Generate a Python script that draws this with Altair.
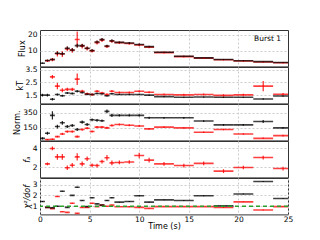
import altair as alt
import pandas as pd

# time bins (centre, half width)
T = [0.25, 0.75, 1.25, 1.75, 2.25, 2.75, 3.25, 3.75, 4.25, 4.75, 5.25, 5.75, 6.25, 6.75, 7.25,
     8, 9, 10, 11, 12.5, 14.5, 16.5, 18.5, 20.5, 22.5, 24.5]
HW = [0.25] * 15 + [0.5] * 4 + [1.0] * 7

N = None
flux_k = [2.0, 3.7, 4.4, 8.3, 8.0, 11.5, 10.4, 13.1, 13.1, 11.5, 10.0, 15.4, 17.0, 12.9, 16.2,
          15.2, 14.8, 13.8, 12.5, 8.9, 6.4, 5.4, 4.4, 3.6, 3.0, 2.5]
flux_ke = [0.4, 0.5, 0.6, 0.9, 0.9, 1.0, 1.0, 1.2, 1.0, 0.9, 0.8, 1.0, 1.0, 0.8, 0.9,
           0.6, 0.6, 0.6, 0.5, 0.4, 0.4, 0.3, 0.3, 0.3, 0.3, 0.3]
flux_r = [N, 3.6, 4.3, 8.0, 7.8, 11.0, 10.2, 17.0, 12.8, 11.3, 9.8, 15.0, 16.6, 12.6, 15.9,
          15.0, 14.5, 13.5, 12.2, 8.7, 6.2, 5.2, 4.2, 3.4, 2.8, 2.3]
flux_re = [N, 0.8, 1.0, 1.8, 1.8, 1.5, 1.5, 5.0, 1.5, 1.2, 1.0, 1.2, 1.2, 1.0, 1.0,
           0.8, 0.8, 0.8, 0.7, 0.6, 0.5, 0.5, 0.4, 0.4, 0.4, 0.4]

kt_k = [1.5, 1.5, 1.17, 1.55, 1.45, 1.67, 1.63, 1.8, 1.7, 1.57, 1.55, 1.63, 1.6, 1.45, 1.6,
        1.55, 1.55, 1.55, 1.5, 1.38, 1.33, 1.35, 1.33, 1.33, 1.2, 1.43]
kt_ke = [0.1, 0.1, 0.1, 0.08, 0.08, 0.08, 0.08, 0.1, 0.08, 0.08, 0.06, 0.06, 0.06, 0.06, 0.06,
         0.05, 0.05, 0.05, 0.05, 0.05, 0.05, 0.05, 0.05, 0.05, 0.06, 0.06]
kt_r = [N, N, 2.93, 2.2, 1.88, 1.95, 1.95, 2.75, 1.8, 1.6, 1.55, 1.8, 1.67, 1.55, 1.8,
        1.7, 1.7, 1.8, 1.72, 1.55, 1.52, 1.55, 1.48, 1.52, 2.2, 1.57]
kt_re = [N, N, 0.15, 0.25, 0.15, 0.12, 0.12, 0.45, 0.12, 0.1, 0.1, 0.1, 0.1, 0.1, 0.1,
         0.08, 0.08, 0.08, 0.08, 0.08, 0.08, 0.08, 0.08, 0.08, 0.4, 0.1]

nm_k = [12, 80, 315, 168, 217, 168, 182, 128, 226, 195, 257, 250, 244, 368, 315,
        315, 315, 315, 283, 283, 283, 240, 190, 190, 235, 150]
nm_ke = [15, 20, 55, 25, 25, 20, 20, 20, 20, 20, 18, 18, 18, 25, 20,
         15, 15, 15, 15, 12, 12, 12, 12, 12, 20, 12]
nm_r = [N, -5, 0, 35, 70, 102, 102, 35, 128, 146, 102, 160, 160, 150, 182,
        195, 185, 175, 137, 160, 150, 93, 128, 70, 12, 48]
nm_re = [N, 10, 10, 12, 15, 15, 15, 15, 15, 15, 12, 15, 15, 15, 15,
         12, 12, 12, 12, 10, 10, 10, 10, 10, 10, 10]

fa_r = [N, 2.35, 4.0, 3.1, 3.1, 1.93, 2.2, 3.1, 2.35, 2.9, 2.2, 2.17, 2.6, 3.0, 2.46,
        2.5, 2.55, 3.25, 2.75, 2.35, 2.17, 2.4, 1.57, 1.96, 3.03, 1.85]
fa_re = [N, 0.15, 0.2, 0.3, 0.3, 0.25, 0.25, 0.4, 0.25, 0.25, 0.2, 0.2, 0.2, 0.3, 0.25,
         0.2, 0.2, 0.3, 0.25, 0.2, 0.2, 0.2, 0.2, 0.2, 0.2, 0.2]

chi_k = [1.44, 0.9, 0.85, 1.0, 2.38, 0.9, 2.0, 2.75, 1.53, 0.97, 1.78, 1.22, 1.1, 1.53, 1.78,
         1.38, 1.44, 1.97, 1.38, 1.59, 1.53, 1.97, 1.03, 2.13, 3.28, 1.72]
chi_r = [N, 0.88, 0.78, 1.9, 0.5, 0.44, 1.28, 0.34, 0.88, 0.9, 1.28, 0.97, 1.1, 1.0, 1.1,
         0.96, 0.95, 0.9, 0.8, 0.97, 0.97, 0.97, 0.88, 1.4, 0.65, 0.97]

rows = []


def add(panel, series, vals, errs):
    for i, v in enumerate(vals):
        if v is None:
            continue
        e = errs[i] if errs is not None and errs[i] is not None else 0.04
        rows.append(dict(panel=panel, series=series, t=T[i], tlo=T[i] - HW[i], thi=T[i] + HW[i],
                         v=v, lo=v - e, hi=v + e))


for p, rk, rke, bk, bke in [
    ("flux", flux_r, flux_re, flux_k, flux_ke),
    ("kt", kt_r, kt_re, kt_k, kt_ke),
    ("norm", nm_r, nm_re, nm_k, nm_ke),
    ("fa", fa_r, fa_re, None, None),
    ("chi", chi_r, None, chi_k, None),
]:
    add(p, "red", rk, rke)
    if bk is not None:
        add(p, "black", bk, bke)

df = pd.DataFrame(rows)

W, H = 248, 36.4
FONT = "DejaVu Sans"
color = alt.Color("series:N", scale=alt.Scale(domain=["black", "red"], range=["#000000", "#ff0000"]),
                  legend=None)


def panel(name, domain, ticks, title, fmt, bottom=False, italic=False):
    d = df[df.panel == name]
    base = alt.Chart(d)
    if bottom:
        xax = alt.Axis(values=[0, 5, 10, 15, 20, 25], grid=True, gridDash=[2, 2], gridColor="#cccccc",
                       labels=True, ticks=False, domain=False, format="d",
                       title="Time (s)", labelFlush=False, labelPadding=1, titlePadding=0)
    else:
        xax = alt.Axis(values=[5, 10, 15, 20], grid=True, gridDash=[2, 2], gridColor="#cccccc",
                       labels=False, ticks=False, domain=False, title=None,
                       minExtent=0, maxExtent=0, offset=0)
    yax = alt.Axis(values=ticks, grid=True, gridDash=[2, 2], gridColor="#cccccc", title=title,
                   format=fmt, titleFontStyle="italic" if italic else "normal", labelOverlap=False,
                   labelBound=False, ticks=False, domain=False, labelPadding=3, titlePadding=1)
    xs = alt.Scale(domain=[0, 25], nice=False)
    ys = alt.Scale(domain=domain, nice=False, zero=False)
    hbar = base.mark_rule(strokeWidth=1.6, opacity=0.75, clip=True).encode(
        x=alt.X("tlo:Q", scale=xs, axis=xax), x2="thi:Q",
        y=alt.Y("v:Q", scale=ys, axis=yax), color=color)
    vbar = base.mark_rule(strokeWidth=1.2, opacity=0.85, clip=True).encode(
        x=alt.X("t:Q", scale=xs, axis=xax), y=alt.Y("lo:Q", scale=ys, axis=yax), y2="hi:Q",
        color=color)
    layers = [hbar, vbar]
    if name == "chi":
        ref = alt.Chart(pd.DataFrame({"y": [1.0]})).mark_rule(
            color="#2ca02c", strokeDash=[4, 3], strokeWidth=1.3).encode(
            y=alt.Y("y:Q", scale=ys, axis=yax))
        layers.append(ref)
    if name == "flux":
        lab = alt.Chart(pd.DataFrame({"label": ["Burst 1"]})).mark_text(
            align="right", baseline="middle", font=FONT, fontSize=7.5, color="#000").encode(
            x=alt.value(W - 7), y=alt.value(9), text="label:N")
        layers.append(lab)
    return alt.layer(*layers).properties(width=W, height=H)


chart = alt.vconcat(
    panel("flux", [0, 23], [10, 20], "Flux", "d"),
    panel("kt", [0.85, 3.7], [1.5, 2.5, 3.5], "kT", ".1f"),
    panel("norm", [-15, 465], [150, 350], "Norm.", "d"),
    panel("fa", [0.9, 4.8], [2, 4], "fₐ", "d", italic=True),
    panel("chi", [0.25, 3.6], [1, 2, 3], "χ²/dof", "d", bottom=True, italic=True),
    spacing=0, bounds="flush",
).properties(
    padding={"left": 5, "top": 21, "right": 5, "bottom": 0}
).configure_view(
    stroke="#333333", strokeWidth=1
).configure_axis(
    labelFont=FONT, labelFontSize=7.5, labelColor="#000", titleFont=FONT, titleFontSize=8,
    titleFontWeight="normal", titleColor="#000"
).configure_concat(spacing=0)

chart.save("out.html", embed_options={"renderer": "svg", "actions": False})
